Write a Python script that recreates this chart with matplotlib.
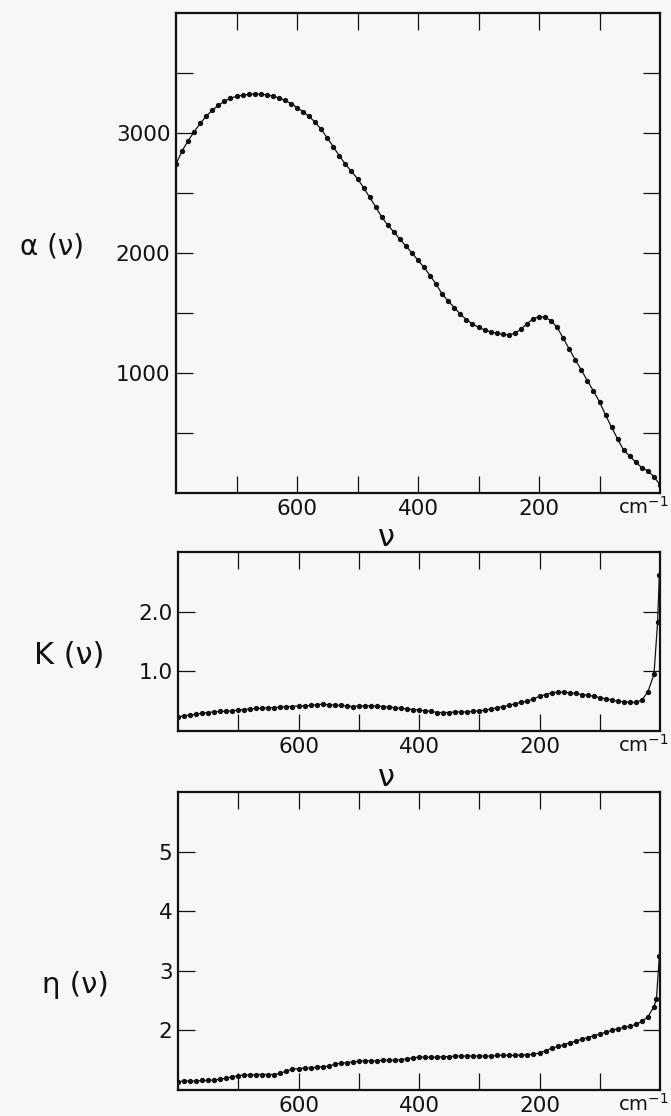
import numpy as np
import matplotlib
matplotlib.use("Agg")
import matplotlib.pyplot as plt
from matplotlib.ticker import FixedLocator, FixedFormatter

plt.rcParams['font.family'] = ['DejaVu Sans']

# wavenumber grid (cm^-1), 800 -> 10 in steps of 10, plus the points close to zero
nu_grid = list(range(800, 0, -10))

alpha_vals = [
    2740, 2850, 2935, 3010, 3080, 3140, 3190, 3230, 3265, 3290,
    3305, 3315, 3322, 3325, 3323, 3318, 3308, 3293, 3272, 3245,
    3212, 3178, 3138, 3090, 3030, 2960, 2885, 2810, 2740, 2680,
    2619, 2545, 2465, 2385, 2300, 2233, 2175, 2116, 2058, 2000,
    1940, 1880, 1812, 1740, 1657, 1600, 1545, 1490, 1445, 1410,
    1380, 1360, 1343, 1330, 1322, 1318, 1330, 1365, 1410, 1450,
    1470, 1465, 1435, 1381, 1290, 1200, 1110, 1025, 935, 850,
    760, 650, 547, 450, 355, 308, 256, 210, 185, 135,
]
alpha_tail_nu = [0]
alpha_tail = [68]

k_vals = [
    0.24, 0.25, 0.27, 0.28, 0.30, 0.31, 0.32, 0.33, 0.33, 0.34,
    0.35, 0.36, 0.37, 0.38, 0.38, 0.39, 0.39, 0.40, 0.41, 0.41,
    0.42, 0.42, 0.43, 0.44, 0.45, 0.44, 0.43, 0.43, 0.42, 0.41,
    0.42, 0.42, 0.42, 0.42, 0.41, 0.40, 0.39, 0.38, 0.37, 0.36,
    0.35, 0.34, 0.33, 0.31, 0.31, 0.31, 0.32, 0.32, 0.32, 0.33,
    0.34, 0.35, 0.37, 0.39, 0.41, 0.43, 0.46, 0.48, 0.50, 0.54,
    0.58, 0.61, 0.64, 0.65, 0.65, 0.64, 0.63, 0.61, 0.60, 0.58,
    0.56, 0.54, 0.52, 0.50, 0.49, 0.48, 0.48, 0.52, 0.66, 0.95,
]
k_tail_nu = [4, 1]
k_tail = [1.82, 2.62]

eta_vals = [
    1.14, 1.15, 1.15, 1.15, 1.16, 1.16, 1.17, 1.18, 1.20, 1.22,
    1.24, 1.25, 1.25, 1.26, 1.26, 1.26, 1.26, 1.28, 1.32, 1.35,
    1.36, 1.37, 1.37, 1.38, 1.39, 1.40, 1.43, 1.45, 1.46, 1.47,
    1.48, 1.49, 1.49, 1.49, 1.50, 1.50, 1.50, 1.51, 1.52, 1.54,
    1.55, 1.55, 1.55, 1.55, 1.56, 1.56, 1.57, 1.57, 1.57, 1.57,
    1.57, 1.57, 1.57, 1.58, 1.58, 1.58, 1.58, 1.59, 1.59, 1.60,
    1.62, 1.66, 1.70, 1.73, 1.76, 1.79, 1.82, 1.85, 1.88, 1.91,
    1.94, 1.97, 2.00, 2.03, 2.05, 2.07, 2.10, 2.15, 2.23, 2.40,
]
eta_tail_nu = [6, 1]
eta_tail = [2.52, 3.25]

x_major = [600, 400, 200]
x_minor = [700, 500, 300, 100]

panels = [
    dict(y=alpha_vals, tail_nu=alpha_tail_nu, tail=alpha_tail, ylim=(0, 4000),
         major=[1000, 2000, 3000], labels=["1000", "2000", "3000"],
         minor=[500, 1500, 2500, 3500], rect=(176, 13, 660, 493),
         ylabel="α (ν)", ylabel_xy=(52, 247), ylabel_size=20),
    dict(y=k_vals, tail_nu=k_tail_nu, tail=k_tail, ylim=(0, 3.0),
         major=[1.0, 2.0], labels=["1.0", "2.0"], minor=[],
         rect=(178, 552, 660, 731),
         ylabel="K (ν)", ylabel_xy=(69, 655), ylabel_size=22),
    dict(y=eta_vals, tail_nu=eta_tail_nu, tail=eta_tail, ylim=(1, 6),
         major=[2, 3, 4, 5], labels=["2", "3", "4", "5"], minor=[],
         rect=(178, 792, 660, 1090),
         ylabel="η (ν)", ylabel_xy=(75, 985), ylabel_size=21),
]

W, H = 671, 1116
fig = plt.figure(figsize=(W / 100, H / 100), dpi=100)
fig.patch.set_facecolor("#f7f7f5")

ink = "#111111"
tick_size = 15.5
tick_pad = 4
for p in panels:
    x0, y0, x1, y1 = p["rect"]
    ax = fig.add_axes([x0 / W, 1 - y1 / H, (x1 - x0) / W, (y1 - y0) / H])
    ax.set_facecolor("#f7f7f5")
    nu = nu_grid + p["tail_nu"]
    vals = p["y"] + p["tail"]
    ax.plot(nu, vals, color=ink, lw=0.9, marker="o", ms=2.8, mec=ink, mfc=ink)
    ax.set_xlim(800, 0)
    ax.set_ylim(*p["ylim"])

    ax.xaxis.set_major_locator(FixedLocator(x_major))
    ax.xaxis.set_major_formatter(FixedFormatter([str(v) for v in x_major]))
    ax.xaxis.set_minor_locator(FixedLocator(x_minor))
    ax.yaxis.set_major_locator(FixedLocator(p["major"]))
    ax.yaxis.set_major_formatter(FixedFormatter(p["labels"]))
    ax.yaxis.set_minor_locator(FixedLocator(p["minor"]))

    for which in ("major", "minor"):
        ax.tick_params(axis="both", which=which, direction="in", length=12,
                       width=0.9, color=ink, top=True, right=True,
                       labeltop=False, labelright=False)
    ax.tick_params(axis="both", which="major", labelsize=tick_size,
                   labelcolor=ink, pad=tick_pad)
    for s in ax.spines.values():
        s.set_linewidth(1.6)
        s.set_color(ink)

    # unit label sitting on the same baseline as the wavenumber tick labels
    ax.annotate("cm$^{-1}$", xy=(1.0, 0.0), xycoords="axes fraction",
                xytext=(6, -(tick_pad + 0.73 * tick_size)),
                textcoords="offset points", ha="right", va="baseline",
                fontsize=14, color=ink)
    lx, ly = p["ylabel_xy"]
    fig.text(lx / W, 1 - ly / H, p["ylabel"], ha="center", va="center",
             fontsize=p["ylabel_size"], color=ink)

# wavenumber symbol between the panels
for yy in (538, 778):
    fig.text(386 / W, 1 - yy / H, "ν", ha="center", va="center",
             fontsize=22, color=ink)

fig.savefig("out.png", dpi=100, facecolor=fig.get_facecolor())
